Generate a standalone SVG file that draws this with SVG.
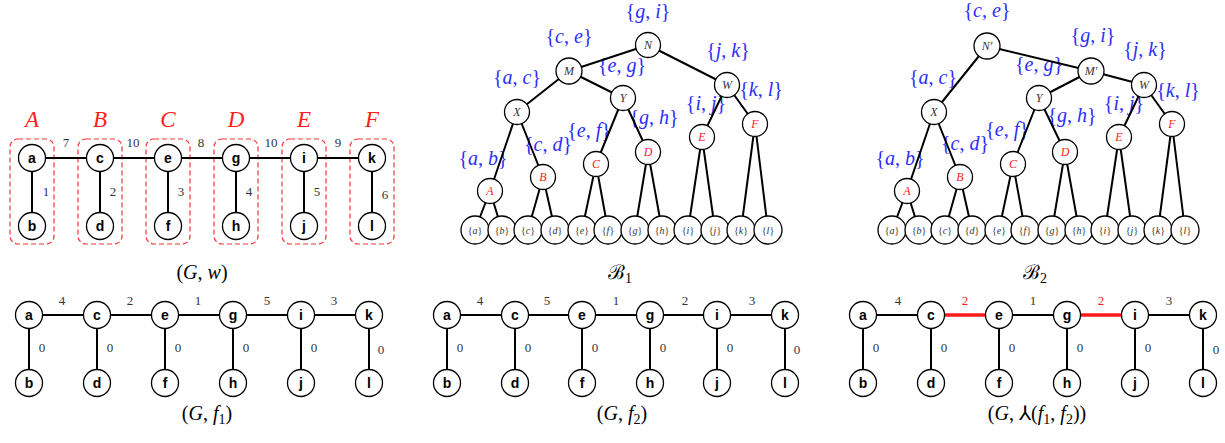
<svg xmlns="http://www.w3.org/2000/svg" width="1225" height="443" viewBox="0 0 1225 443">
<style>
text{opacity:0.99}
.e{stroke:#000;stroke-width:2;fill:none}
.te{stroke:#000;stroke-width:2;fill:none}
.re{stroke:#ff1a1a;stroke-width:3.5;fill:none}
.n{fill:#fff;stroke:#000;stroke-width:1.3}
.nl{font-family:"Liberation Sans",Arial,sans-serif;font-weight:bold;font-size:14px;text-anchor:middle;fill:#000}
.w{font-family:"Liberation Serif",serif;font-size:13px;fill:#333;text-anchor:middle}
.wr{font-family:"Liberation Serif",serif;font-size:13px;fill:#ff1a1a;text-anchor:middle}
.box{fill:none;stroke:#ff3333;stroke-width:1.2;stroke-dasharray:5,3}
.bl{font-family:"Liberation Serif",serif;font-size:23px;font-style:italic;fill:#ff1a1a;text-anchor:middle}
.lab{font-family:"Liberation Serif",serif;font-size:20px;fill:#2b2bff;text-anchor:middle}
.tn{font-family:"Liberation Serif",serif;font-style:italic;font-size:12px;fill:#333;text-anchor:middle}
.tr{font-family:"Liberation Serif",serif;font-style:italic;font-size:12px;fill:#ff1a1a;text-anchor:middle}
.lf{font-family:"Liberation Serif",serif;font-size:10px;fill:#333;text-anchor:middle}
.cap{font-family:"Liberation Serif",serif;font-size:20px;fill:#000;text-anchor:middle}
</style>
<defs>
<circle id="gn" r="13.5" class="n"/>
</defs>

<!-- ============ (G,w) ============ -->
<g id="gw">
<g id="gw-boxes">
<rect class="box" x="10" y="139" width="44" height="105" rx="8"/>
<rect class="box" x="78" y="139" width="44" height="105" rx="8"/>
<rect class="box" x="146" y="139" width="44" height="105" rx="8"/>
<rect class="box" x="214" y="139" width="44" height="105" rx="8"/>
<rect class="box" x="282" y="139" width="44" height="105" rx="8"/>
<rect class="box" x="350" y="139" width="44" height="105" rx="8"/>
<text class="bl" x="32" y="127">A</text>
<text class="bl" x="100" y="127">B</text>
<text class="bl" x="168" y="127">C</text>
<text class="bl" x="236" y="127">D</text>
<text class="bl" x="304" y="127">E</text>
<text class="bl" x="372" y="127">F</text>
</g>
<g id="gw-connectors">
<path class="e" d="M32 158H372M32 158V226M100 158V226M168 158V226M236 158V226M304 158V226M372 158V226"/>
<text class="w" x="66" y="147">7</text>
<text class="w" x="133" y="147">10</text>
<text class="w" x="201" y="147">8</text>
<text class="w" x="271" y="147">10</text>
<text class="w" x="338" y="147">9</text>
<text class="w" x="46" y="196">1</text>
<text class="w" x="113" y="196">2</text>
<text class="w" x="181" y="196">3</text>
<text class="w" x="249" y="196">4</text>
<text class="w" x="317" y="196">5</text>
<text class="w" x="385" y="199">6</text>
</g>
<g id="gw-a"><use href="#gn" x="32" y="158"/><text class="nl" x="32" y="163">a</text></g>
<g id="gw-c"><use href="#gn" x="100" y="158"/><text class="nl" x="100" y="163">c</text></g>
<g id="gw-e"><use href="#gn" x="168" y="158"/><text class="nl" x="168" y="163">e</text></g>
<g id="gw-g"><use href="#gn" x="236" y="158"/><text class="nl" x="236" y="163">g</text></g>
<g id="gw-i"><use href="#gn" x="304" y="158"/><text class="nl" x="304" y="163">i</text></g>
<g id="gw-k"><use href="#gn" x="372" y="158"/><text class="nl" x="372" y="163">k</text></g>
<g id="gw-b"><use href="#gn" x="32" y="226"/><text class="nl" x="32" y="231">b</text></g>
<g id="gw-d"><use href="#gn" x="100" y="226"/><text class="nl" x="100" y="231">d</text></g>
<g id="gw-f"><use href="#gn" x="168" y="226"/><text class="nl" x="168" y="231">f</text></g>
<g id="gw-h"><use href="#gn" x="236" y="226"/><text class="nl" x="236" y="231">h</text></g>
<g id="gw-j"><use href="#gn" x="304" y="226"/><text class="nl" x="304" y="231">j</text></g>
<g id="gw-l"><use href="#gn" x="372" y="226"/><text class="nl" x="372" y="231">l</text></g>
<text class="cap" x="202" y="279">(<tspan font-style="italic">G</tspan>, <tspan font-style="italic">w</tspan>)</text>
</g>

<!-- ============ B1 ============ -->
<g id="b1">
<g id="b1-labels">
<text class="lab" x="648" y="18">{<tspan font-style="italic">g</tspan>, <tspan font-style="italic">i</tspan>}</text>
<text class="lab" x="569" y="43">{<tspan font-style="italic">c</tspan>, <tspan font-style="italic">e</tspan>}</text>
<text class="lab" x="728" y="57">{<tspan font-style="italic">j</tspan>, <tspan font-style="italic">k</tspan>}</text>
<text class="lab" x="622" y="72">{<tspan font-style="italic">e</tspan>, <tspan font-style="italic">g</tspan>}</text>
<text class="lab" x="517" y="84">{<tspan font-style="italic">a</tspan>, <tspan font-style="italic">c</tspan>}</text>
<text class="lab" x="761" y="96">{<tspan font-style="italic">k</tspan>, <tspan font-style="italic">l</tspan>}</text>
<text class="lab" x="706" y="110">{<tspan font-style="italic">i</tspan>, <tspan font-style="italic">j</tspan>}</text>
<text class="lab" x="654" y="124">{<tspan font-style="italic">g</tspan>, <tspan font-style="italic">h</tspan>}</text>
<text class="lab" x="589" y="137">{<tspan font-style="italic">e</tspan>, <tspan font-style="italic">f</tspan>}</text>
<text class="lab" x="548" y="151">{<tspan font-style="italic">c</tspan>, <tspan font-style="italic">d</tspan>}</text>
<text class="lab" x="483" y="165">{<tspan font-style="italic">a</tspan>, <tspan font-style="italic">b</tspan>}</text>
</g>
<g id="b1-connectors">
<path class="te" d="M648 45L569 71M648 45L727 85M569 71L517 112M569 71L623 98M517 112L490 191M517 112L543 177M623 98L596 164M623 98L648 152M727 85L702 137M727 85L755 124"/>
<path class="te" d="M490 191L475 230M490 191L502 230M543 177L528 230M543 177L555 230M596 164L582 230M596 164L608 230M648 152L635 230M648 152L662 230M702 137L688 230M702 137L715 230M755 124L741 230M755 124L768 230"/>
</g>
<g id="b1-N"><circle class="n" cx="648" cy="45" r="12.5"/><text class="tn" x="648" y="49">N</text></g>
<g id="b1-M"><circle class="n" cx="569" cy="71" r="13"/><text class="tn" x="569" y="75">M</text></g>
<g id="b1-W"><circle class="n" cx="727" cy="85" r="12.5"/><text class="tn" x="727" y="89">W</text></g>
<g id="b1-X"><circle class="n" cx="517" cy="112" r="12.5"/><text class="tn" x="517" y="116">X</text></g>
<g id="b1-Y"><circle class="n" cx="623" cy="98" r="12.5"/><text class="tn" x="623" y="102">Y</text></g>
<g id="b1-A"><circle class="n" cx="490" cy="191" r="12.5"/><text class="tr" x="490" y="195">A</text></g>
<g id="b1-B"><circle class="n" cx="543" cy="177" r="12.5"/><text class="tr" x="543" y="181">B</text></g>
<g id="b1-C"><circle class="n" cx="596" cy="164" r="12.5"/><text class="tr" x="596" y="168">C</text></g>
<g id="b1-D"><circle class="n" cx="648" cy="152" r="12.5"/><text class="tr" x="648" y="156">D</text></g>
<g id="b1-E"><circle class="n" cx="702" cy="137" r="12.5"/><text class="tr" x="702" y="141">E</text></g>
<g id="b1-F"><circle class="n" cx="755" cy="124" r="12.5"/><text class="tr" x="755" y="128">F</text></g>
<g id="b1-la"><circle class="n" cx="475" cy="230" r="14"/><text class="lf" x="475" y="234">{<tspan font-style="italic">a</tspan>}</text></g>
<g id="b1-lb"><circle class="n" cx="502" cy="230" r="14"/><text class="lf" x="502" y="234">{<tspan font-style="italic">b</tspan>}</text></g>
<g id="b1-lc"><circle class="n" cx="528" cy="230" r="14"/><text class="lf" x="528" y="234">{<tspan font-style="italic">c</tspan>}</text></g>
<g id="b1-ld"><circle class="n" cx="555" cy="230" r="14"/><text class="lf" x="555" y="234">{<tspan font-style="italic">d</tspan>}</text></g>
<g id="b1-le"><circle class="n" cx="582" cy="230" r="14"/><text class="lf" x="582" y="234">{<tspan font-style="italic">e</tspan>}</text></g>
<g id="b1-lf"><circle class="n" cx="608" cy="230" r="14"/><text class="lf" x="608" y="234">{<tspan font-style="italic">f</tspan>}</text></g>
<g id="b1-lg"><circle class="n" cx="635" cy="230" r="14"/><text class="lf" x="635" y="234">{<tspan font-style="italic">g</tspan>}</text></g>
<g id="b1-lh"><circle class="n" cx="662" cy="230" r="14"/><text class="lf" x="662" y="234">{<tspan font-style="italic">h</tspan>}</text></g>
<g id="b1-li"><circle class="n" cx="688" cy="230" r="14"/><text class="lf" x="688" y="234">{<tspan font-style="italic">i</tspan>}</text></g>
<g id="b1-lj"><circle class="n" cx="715" cy="230" r="14"/><text class="lf" x="715" y="234">{<tspan font-style="italic">j</tspan>}</text></g>
<g id="b1-lk"><circle class="n" cx="741" cy="230" r="14"/><text class="lf" x="741" y="234">{<tspan font-style="italic">k</tspan>}</text></g>
<g id="b1-ll"><circle class="n" cx="768" cy="230" r="14"/><text class="lf" x="768" y="234">{<tspan font-style="italic">l</tspan>}</text></g>
<text class="cap" x="620" y="279" font-family="'DejaVu Serif',serif">ℬ<tspan font-size="14" dy="4">1</tspan></text>
</g>

<!-- ============ B2 ============ -->
<g id="b2">
<g id="b2-labels">
<text class="lab" x="987" y="17">{<tspan font-style="italic">c</tspan>, <tspan font-style="italic">e</tspan>}</text>
<text class="lab" x="1093" y="42">{<tspan font-style="italic">g</tspan>, <tspan font-style="italic">i</tspan>}</text>
<text class="lab" x="1145" y="56">{<tspan font-style="italic">j</tspan>, <tspan font-style="italic">k</tspan>}</text>
<text class="lab" x="1039" y="71">{<tspan font-style="italic">e</tspan>, <tspan font-style="italic">g</tspan>}</text>
<text class="lab" x="933" y="84">{<tspan font-style="italic">a</tspan>, <tspan font-style="italic">c</tspan>}</text>
<text class="lab" x="1178" y="97">{<tspan font-style="italic">k</tspan>, <tspan font-style="italic">l</tspan>}</text>
<text class="lab" x="1124" y="110">{<tspan font-style="italic">i</tspan>, <tspan font-style="italic">j</tspan>}</text>
<text class="lab" x="1072" y="122">{<tspan font-style="italic">g</tspan>, <tspan font-style="italic">h</tspan>}</text>
<text class="lab" x="1007" y="136">{<tspan font-style="italic">e</tspan>, <tspan font-style="italic">f</tspan>}</text>
<text class="lab" x="965" y="150">{<tspan font-style="italic">c</tspan>, <tspan font-style="italic">d</tspan>}</text>
<text class="lab" x="900" y="165">{<tspan font-style="italic">a</tspan>, <tspan font-style="italic">b</tspan>}</text>
</g>
<g id="b2-connectors">
<path class="te" d="M987 46L934 112M987 46L1091 71M1091 71L1039 98M1091 71L1144 85M934 112L907 191M934 112L960 177M1039 98L1013 164M1039 98L1065 152M1144 85L1119 137M1144 85L1172 124"/>
<path class="te" d="M907 191L892 230M907 191L919 230M960 177L945 230M960 177L972 230M1013 164L999 230M1013 164L1025 230M1065 152L1052 230M1065 152L1079 230M1119 137L1105 230M1119 137L1132 230M1172 124L1158 230M1172 124L1185 230"/>
</g>
<g id="b2-N"><circle class="n" cx="987" cy="46" r="13"/><text class="tn" x="987" y="50">N′</text></g>
<g id="b2-M"><circle class="n" cx="1091" cy="71" r="13"/><text class="tn" x="1091" y="75">M′</text></g>
<g id="b2-W"><circle class="n" cx="1144" cy="85" r="12.5"/><text class="tn" x="1144" y="89">W</text></g>
<g id="b2-X"><circle class="n" cx="934" cy="112" r="12.5"/><text class="tn" x="934" y="116">X</text></g>
<g id="b2-Y"><circle class="n" cx="1039" cy="98" r="12.5"/><text class="tn" x="1039" y="102">Y</text></g>
<g id="b2-A"><circle class="n" cx="907" cy="191" r="12.5"/><text class="tr" x="907" y="195">A</text></g>
<g id="b2-B"><circle class="n" cx="960" cy="177" r="12.5"/><text class="tr" x="960" y="181">B</text></g>
<g id="b2-C"><circle class="n" cx="1013" cy="164" r="12.5"/><text class="tr" x="1013" y="168">C</text></g>
<g id="b2-D"><circle class="n" cx="1065" cy="152" r="12.5"/><text class="tr" x="1065" y="156">D</text></g>
<g id="b2-E"><circle class="n" cx="1119" cy="137" r="12.5"/><text class="tr" x="1119" y="141">E</text></g>
<g id="b2-F"><circle class="n" cx="1172" cy="124" r="12.5"/><text class="tr" x="1172" y="128">F</text></g>
<g id="b2-la"><circle class="n" cx="892" cy="230" r="14"/><text class="lf" x="892" y="234">{<tspan font-style="italic">a</tspan>}</text></g>
<g id="b2-lb"><circle class="n" cx="919" cy="230" r="14"/><text class="lf" x="919" y="234">{<tspan font-style="italic">b</tspan>}</text></g>
<g id="b2-lc"><circle class="n" cx="945" cy="230" r="14"/><text class="lf" x="945" y="234">{<tspan font-style="italic">c</tspan>}</text></g>
<g id="b2-ld"><circle class="n" cx="972" cy="230" r="14"/><text class="lf" x="972" y="234">{<tspan font-style="italic">d</tspan>}</text></g>
<g id="b2-le"><circle class="n" cx="999" cy="230" r="14"/><text class="lf" x="999" y="234">{<tspan font-style="italic">e</tspan>}</text></g>
<g id="b2-lf"><circle class="n" cx="1025" cy="230" r="14"/><text class="lf" x="1025" y="234">{<tspan font-style="italic">f</tspan>}</text></g>
<g id="b2-lg"><circle class="n" cx="1052" cy="230" r="14"/><text class="lf" x="1052" y="234">{<tspan font-style="italic">g</tspan>}</text></g>
<g id="b2-lh"><circle class="n" cx="1079" cy="230" r="14"/><text class="lf" x="1079" y="234">{<tspan font-style="italic">h</tspan>}</text></g>
<g id="b2-li"><circle class="n" cx="1105" cy="230" r="14"/><text class="lf" x="1105" y="234">{<tspan font-style="italic">i</tspan>}</text></g>
<g id="b2-lj"><circle class="n" cx="1132" cy="230" r="14"/><text class="lf" x="1132" y="234">{<tspan font-style="italic">j</tspan>}</text></g>
<g id="b2-lk"><circle class="n" cx="1158" cy="230" r="14"/><text class="lf" x="1158" y="234">{<tspan font-style="italic">k</tspan>}</text></g>
<g id="b2-ll"><circle class="n" cx="1185" cy="230" r="14"/><text class="lf" x="1185" y="234">{<tspan font-style="italic">l</tspan>}</text></g>
<text class="cap" x="1035" y="279" font-family="'DejaVu Serif',serif">ℬ<tspan font-size="14" dy="4">2</tspan></text>
</g>

<!-- ============ (G,f1) ============ -->
<g id="gf1">
<g id="gf1-connectors">
<path class="e" d="M29 315H369M29 315V383M97 315V383M165 315V383M233 315V383M301 315V383M369 315V383"/>
<text class="w" x="62" y="305">4</text>
<text class="w" x="130" y="305">2</text>
<text class="w" x="198" y="305">1</text>
<text class="w" x="267" y="305">5</text>
<text class="w" x="334" y="305">3</text>
<text class="w" x="42" y="352">0</text>
<text class="w" x="110" y="352">0</text>
<text class="w" x="178" y="352">0</text>
<text class="w" x="246" y="352">0</text>
<text class="w" x="314" y="352">0</text>
<text class="w" x="381" y="354">0</text>
</g>
<g id="gf1-a"><use href="#gn" x="29" y="315"/><text class="nl" x="29" y="320">a</text></g>
<g id="gf1-c"><use href="#gn" x="97" y="315"/><text class="nl" x="97" y="320">c</text></g>
<g id="gf1-e"><use href="#gn" x="165" y="315"/><text class="nl" x="165" y="320">e</text></g>
<g id="gf1-g"><use href="#gn" x="233" y="315"/><text class="nl" x="233" y="320">g</text></g>
<g id="gf1-i"><use href="#gn" x="301" y="315"/><text class="nl" x="301" y="320">i</text></g>
<g id="gf1-k"><use href="#gn" x="369" y="315"/><text class="nl" x="369" y="320">k</text></g>
<g id="gf1-b"><use href="#gn" x="29" y="383"/><text class="nl" x="29" y="388">b</text></g>
<g id="gf1-d"><use href="#gn" x="97" y="383"/><text class="nl" x="97" y="388">d</text></g>
<g id="gf1-f"><use href="#gn" x="165" y="383"/><text class="nl" x="165" y="388">f</text></g>
<g id="gf1-h"><use href="#gn" x="233" y="383"/><text class="nl" x="233" y="388">h</text></g>
<g id="gf1-j"><use href="#gn" x="301" y="383"/><text class="nl" x="301" y="388">j</text></g>
<g id="gf1-l"><use href="#gn" x="369" y="383"/><text class="nl" x="369" y="388">l</text></g>
<text class="cap" x="207" y="420">(<tspan font-style="italic">G</tspan>, <tspan font-style="italic">f</tspan><tspan font-size="14" dy="4">1</tspan><tspan dy="-4">)</tspan></text>
</g>

<!-- ============ (G,f2) ============ -->
<g id="gf2">
<g id="gf2-connectors">
<path class="e" d="M447 315H785M447 315V383M515 315V383M582 315V383M650 315V383M717 315V383M785 315V383"/>
<text class="w" x="480" y="305">4</text>
<text class="w" x="547" y="305">5</text>
<text class="w" x="616" y="305">1</text>
<text class="w" x="685" y="305">2</text>
<text class="w" x="752" y="305">3</text>
<text class="w" x="460" y="352">0</text>
<text class="w" x="528" y="352">0</text>
<text class="w" x="595" y="352">0</text>
<text class="w" x="663" y="352">0</text>
<text class="w" x="730" y="352">0</text>
<text class="w" x="797" y="354">0</text>
</g>
<g id="gf2-a"><use href="#gn" x="447" y="315"/><text class="nl" x="447" y="320">a</text></g>
<g id="gf2-c"><use href="#gn" x="515" y="315"/><text class="nl" x="515" y="320">c</text></g>
<g id="gf2-e"><use href="#gn" x="582" y="315"/><text class="nl" x="582" y="320">e</text></g>
<g id="gf2-g"><use href="#gn" x="650" y="315"/><text class="nl" x="650" y="320">g</text></g>
<g id="gf2-i"><use href="#gn" x="717" y="315"/><text class="nl" x="717" y="320">i</text></g>
<g id="gf2-k"><use href="#gn" x="785" y="315"/><text class="nl" x="785" y="320">k</text></g>
<g id="gf2-b"><use href="#gn" x="447" y="383"/><text class="nl" x="447" y="388">b</text></g>
<g id="gf2-d"><use href="#gn" x="515" y="383"/><text class="nl" x="515" y="388">d</text></g>
<g id="gf2-f"><use href="#gn" x="582" y="383"/><text class="nl" x="582" y="388">f</text></g>
<g id="gf2-h"><use href="#gn" x="650" y="383"/><text class="nl" x="650" y="388">h</text></g>
<g id="gf2-j"><use href="#gn" x="717" y="383"/><text class="nl" x="717" y="388">j</text></g>
<g id="gf2-l"><use href="#gn" x="785" y="383"/><text class="nl" x="785" y="388">l</text></g>
<text class="cap" x="622" y="420">(<tspan font-style="italic">G</tspan>, <tspan font-style="italic">f</tspan><tspan font-size="14" dy="4">2</tspan><tspan dy="-4">)</tspan></text>
</g>

<!-- ============ (G, meet) ============ -->
<g id="gf3">
<g id="gf3-connectors">
<path class="e" d="M863 315H931M999 315H1067M1135 315H1203M863 315V383M931 315V383M999 315V383M1067 315V383M1135 315V383M1203 315V383"/>
<path class="re" d="M944 315H986M1080 315H1122"/>
<text class="w" x="898" y="305">4</text>
<text class="wr" x="965" y="305">2</text>
<text class="w" x="1033" y="305">1</text>
<text class="wr" x="1101" y="305">2</text>
<text class="w" x="1169" y="305">3</text>
<text class="w" x="876" y="352">0</text>
<text class="w" x="944" y="352">0</text>
<text class="w" x="1012" y="352">0</text>
<text class="w" x="1080" y="352">0</text>
<text class="w" x="1148" y="352">0</text>
<text class="w" x="1216" y="354">0</text>
</g>
<g id="gf3-a"><use href="#gn" x="863" y="315"/><text class="nl" x="863" y="320">a</text></g>
<g id="gf3-c"><use href="#gn" x="931" y="315"/><text class="nl" x="931" y="320">c</text></g>
<g id="gf3-e"><use href="#gn" x="999" y="315"/><text class="nl" x="999" y="320">e</text></g>
<g id="gf3-g"><use href="#gn" x="1067" y="315"/><text class="nl" x="1067" y="320">g</text></g>
<g id="gf3-i"><use href="#gn" x="1135" y="315"/><text class="nl" x="1135" y="320">i</text></g>
<g id="gf3-k"><use href="#gn" x="1203" y="315"/><text class="nl" x="1203" y="320">k</text></g>
<g id="gf3-b"><use href="#gn" x="863" y="383"/><text class="nl" x="863" y="388">b</text></g>
<g id="gf3-d"><use href="#gn" x="931" y="383"/><text class="nl" x="931" y="388">d</text></g>
<g id="gf3-f"><use href="#gn" x="999" y="383"/><text class="nl" x="999" y="388">f</text></g>
<g id="gf3-h"><use href="#gn" x="1067" y="383"/><text class="nl" x="1067" y="388">h</text></g>
<g id="gf3-j"><use href="#gn" x="1135" y="383"/><text class="nl" x="1135" y="388">j</text></g>
<g id="gf3-l"><use href="#gn" x="1203" y="383"/><text class="nl" x="1203" y="388">l</text></g>
<text class="cap" x="1037" y="420">(<tspan font-style="italic">G</tspan>, <tspan font-family="'DejaVu Serif','DejaVu Sans',serif">⅄</tspan>(<tspan font-style="italic">f</tspan><tspan font-size="14" dy="4">1</tspan><tspan dy="-4">, </tspan><tspan font-style="italic">f</tspan><tspan font-size="14" dy="4">2</tspan><tspan dy="-4">))</tspan></text>
</g>
</svg>
